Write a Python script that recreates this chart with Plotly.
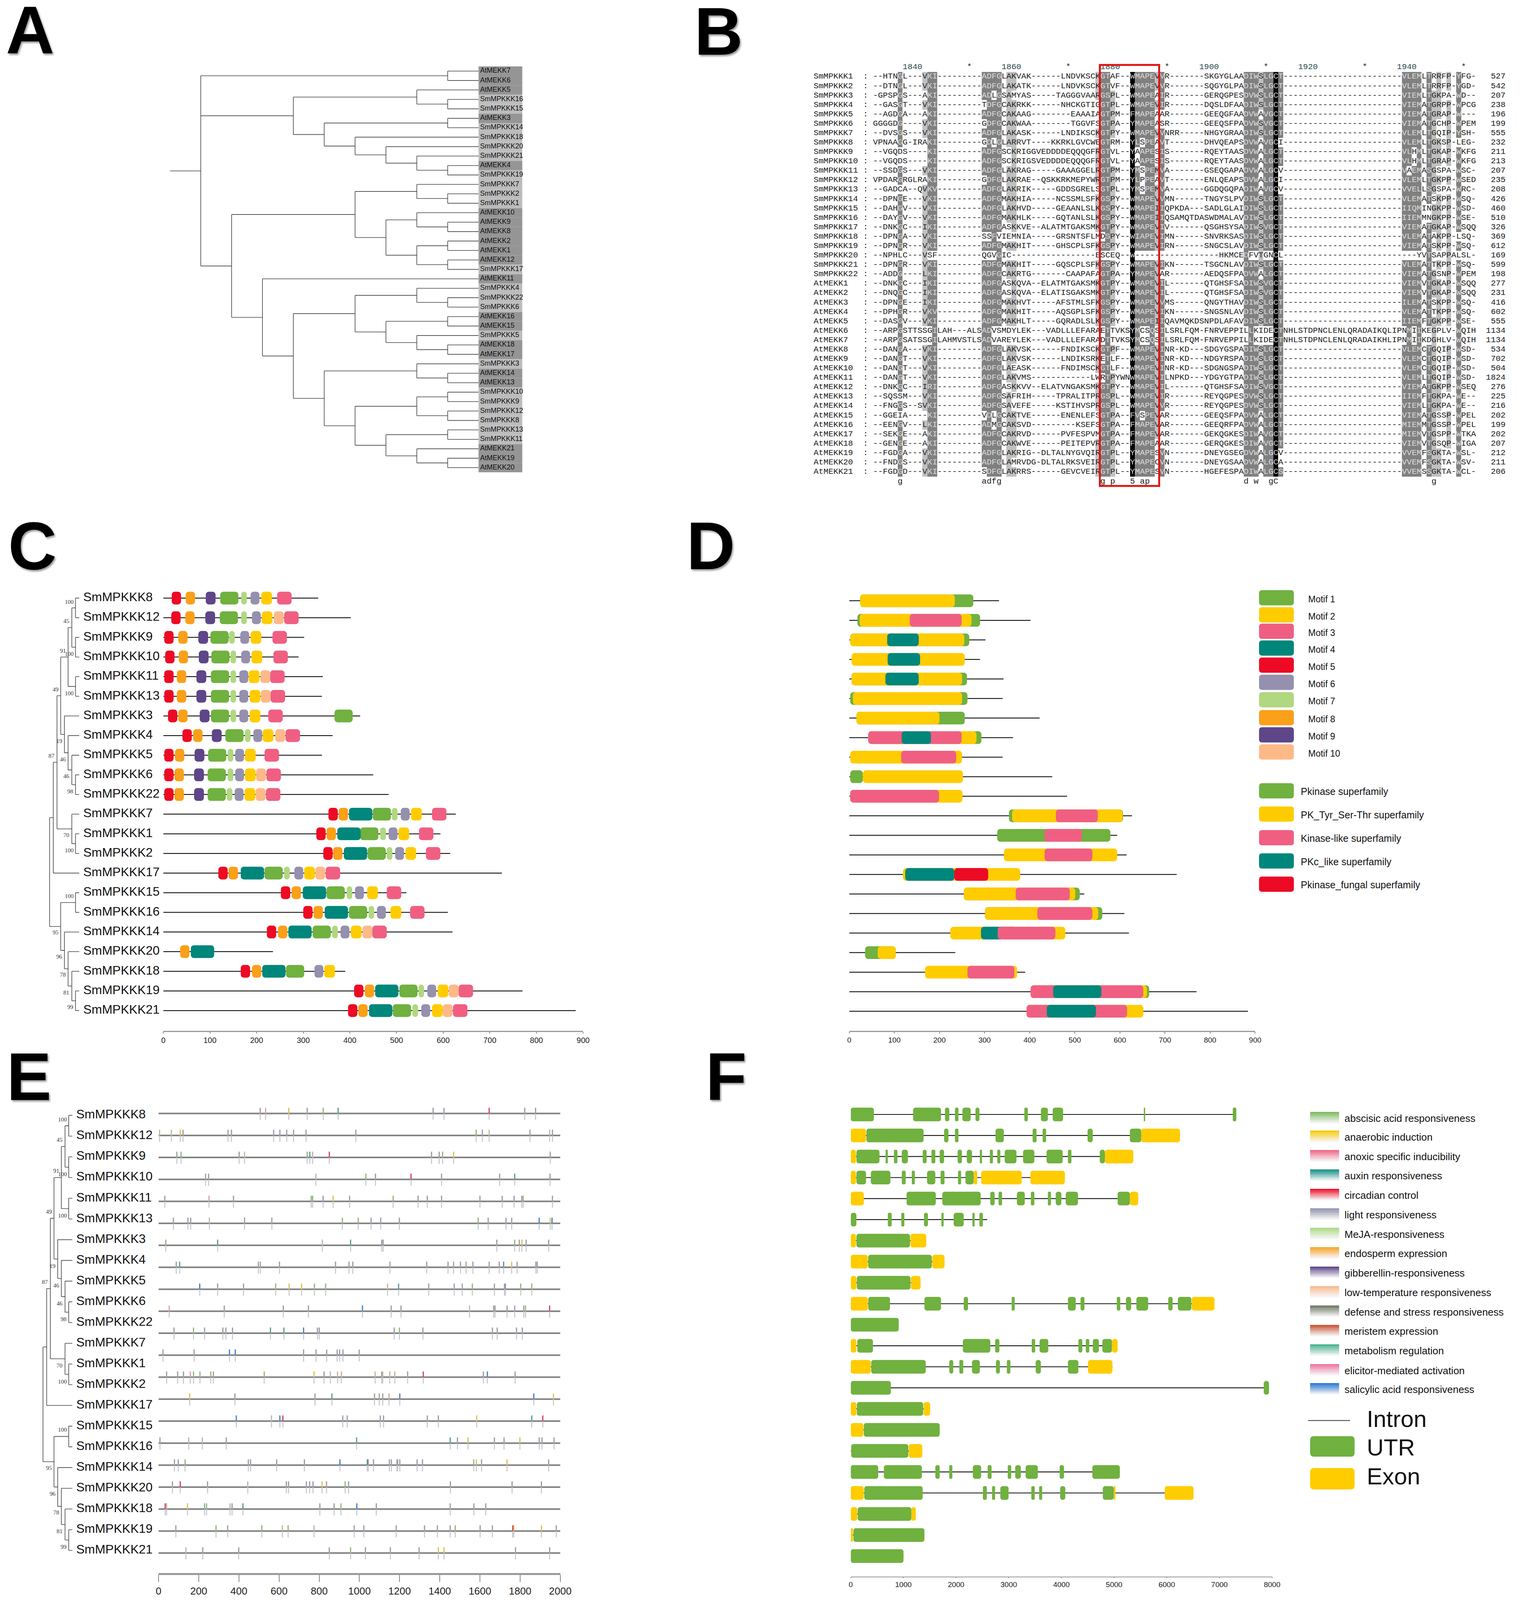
"""Six panel MPKKK figure: tree, alignment, motifs, domains, cis elements, gene structure."""
import plotly.graph_objects as go

W, H = 3918, 4196
PAGE_MARGIN = 8  # the body margin of the written page
FIG_W, FIG_H = W - 2 * PAGE_MARGIN, H - 2 * PAGE_MARGIN

# ---- colours -------------------------------------------------------------
GREEN, YELLOW, PINK, TEAL, RED = "#70B13F", "#FFCC00", "#F05F82", "#00867B", "#ED0A24"
MOTIF_COLORS = {1: GREEN, 2: YELLOW, 3: PINK, 4: TEAL, 5: RED, 6: "#9590AE",
                7: "#B0D880", 8: "#FAA019", 9: "#5E4688", 10: "#FDB988"}
SITE_COLORS = {"g": "#9A9AA6", "p": "#E39AA6", "y": "#D8C24A", "G": "#8DB677", "t": "#4F9A90",
               "r": "#D0405A", "b": "#3F7FC4", "n": "#C9B09A", "o": "#E8A040"}

# ---- panel A --------------------------------------------------------------
A_TREE = (
    ("AtMEKK7", "AtMEKK6"),
    (("AtMEKK5", ("SmMPKKK16", "SmMPKKK15")),
     (("AtMEKK3", "SmMPKKK14"),
      ("SmMPKKK18", ("SmMPKKK20", ("SmMPKKK21", ("AtMEKK4", "SmMPKKK19")))))),
    ((("SmMPKKK7", ("SmMPKKK2", "SmMPKKK1")),
      (("AtMEKK10", ("AtMEKK9", "AtMEKK8")),
       (("AtMEKK2", "AtMEKK1"), ("AtMEKK12", "SmMPKKK17")))),
     ("AtMEKK11",
      ((("SmMPKKK4", ("SmMPKKK22", "SmMPKKK6")),
        (("AtMEKK16", "AtMEKK15"), ("SmMPKKK5", ("AtMEKK18", "AtMEKK17")))),
       (("SmMPKKK3", ("AtMEKK14", "AtMEKK13")),
        ((("SmMPKKK10", "SmMPKKK9"), ("SmMPKKK12", "SmMPKKK8")),
         (("SmMPKKK13", "SmMPKKK11"), ("AtMEKK21", ("AtMEKK19", "AtMEKK20")))))))),
)

# ---- panel B --------------------------------------------------------------
G9, G7, G24 = "-" * 9, "-" * 7, "-" * 24
SEQ_NAMES = [f"SmMPKKK{i}" for i in range(1, 23)] + [f"AtMEKK{i}" for i in range(1, 22)]
SEQ_END = [527, 542, 207, 238, 196, 199, 555, 232, 211, 213, 207, 235, 208, 426, 460, 510, 326, 369, 612, 169,
           599, 198, 277, 231, 416, 602, 555, 1134, 1134, 534, 702, 504, 1824, 276, 225, 216, 202, 199, 202,
           207, 212, 211, 206]
SEQS = [
    "--HTNGL---VKI" + G9 + "ADFGLAKVAK------LNDVKSCK" + "GTAF--WMAPEVVR" + G7 + "SKGYGLAADIWSLGCT" + G24 + "VLEMLTRRFP-YFG-",
    "--DTNGL---VKI" + G9 + "ADFGLAKATK------LNDVKSCK" + "GTVF--WMAPEVVR" + G7 + "SQGYGLPADIWSLGCT" + G24 + "VLEMLTRRFP-YGD-",
    "-GPSPGS---AKI" + G9 + "ADLGSAMYAS-----TAGGGVAAR" + "GSPL--WMAPEAIR" + G7 + "GERQGPESDVWSLGCT" + G24 + "VIEMLTGKPA-WD--",
    "--GASGT---VKI" + G9 + "TDFGCAKRKK------NHCKGTIG" + "GTPL--WMAPEVIR" + G7 + "DQSLDFAADIWSLGCT" + G24 + "VIEMATGRPP-WPCG",
    "--AGDGA---AKI" + G9 + "ADFGCAKAAG--------EAAAIA" + "GTPM--FMAPEAAR" + G7 + "GEEQGFAADVWAVGCT" + G24 + "VIEMATGRAP-W---",
    "GGGGDG----VKI" + G9 + "GDFGCAKWAA--------TGGVFS" + "GTPA--YMAPEASR" + G7 + "GEEQSFPADVWSVGCT" + G24 + "VIEMATGCHP-WPEM",
    "--DVSGS---VKI" + G9 + "ADFGLAKASK------LNDIKSCK" + "GTPY--WMAPEVVN" + "RR-----" + "NHGYGRAADIWSLGCT" + G24 + "VLEMLTGQIP-YSH-",
    "VPNAAGG-IRAKI" + G9 + "GDLGLARRVT----KKRKLGVCWE" + "GTRM--YLSPEAVT" + G7 + "DHVQEAPSDVWAVGCI" + G24 + "VLEMLTGKSP-LEG-",
    "--VGQDS----KI" + G9 + "ADFGSCKRIGGVEDDDDEQQQGFR" + "GTVL--YAAPESIS" + G7 + "RQEYTAASDVWALGCT" + G24 + "VLHMLTGKAP-WKFG",
    "--VGQDS----KI" + G9 + "ADFGSCKRIGSVEDDDDEQQQGFR" + "GTVL--YAAPESIS" + G7 + "RQEYTAASDVWALGCT" + G24 + "VLHMLTGRAP-WKFG",
    "--SSDGS---VKI" + G9 + "ADFGLAKRAG-----GAAAGGELR" + "GTPM--YMSPEMVA" + G7 + "GSEQGAPADVWALGCV" + G24 + "VAEMASGSPA-WSC-",
    "VPDARGRGLRAKI" + G9 + "GDFGLAKRAE--QSKKRKMEPYWR" + "GTPM--YLPPEAVT" + G7 + "ENLQEAPSDVWALGCI" + G24 + "VLEMLTGKPP-WSED",
    "--GADCA--QVKV" + G9 + "ADFGLAKRIK-----GDDSGRELS" + "GTPL--YMSPEMVA" + G7 + "GGDQGQPADIWAVGCV" + G24 + "VVELLSGSPA-WRC-",
    "--DPNGE---VKI" + G9 + "ADFGMAKHIA-----NCSSMLSFK" + "GSPY--WMAPEVVM" + "N------" + "TNGYSLPVDIWSLGCT" + G24 + "VLEMATSKPP-WSQ-",
    "--DAHGV---VKI" + G9 + "ADFGLAKHVD-----GEAANLSLK" + "GSPY--WMAPEIIQ" + "PKDA---" + "SADLGLAIDIWSLGCT" + G24 + "IIQMINGKPP-WSD-",
    "--DAYGV---VKI" + G9 + "ADFGMAKHLK-----GQTANLSLK" + "GSPY--WMAPEIIQ" + "SAMQTDA" + "SWDMALAVDIWSLGCT" + G24 + "IIEMMNGKPP-WSE-",
    "--DNKGC---IKI" + G9 + "ADFGASKKVE--ALATMTGAKSMK" + "GTPY--WMAPEVIV" + G7 + "QSGHSYSADIWSVGCT" + G24 + "VIEMATGKAP-WSQQ",
    "--DPNGA---VKI" + G9 + "SSFVIEMNIA-----GRSNTSFLM" + "DSPY--WIAPEVIM" + "N------" + "SNVRKSASDIWSLGCT" + G24 + "VLEMATAKPP-LSQ-",
    "--DPNGR---VKI" + G9 + "ADFGMAKHIT-----GHSCPLSFK" + "GSPY--WMAPEVIR" + "N------" + "SNGCSLAVDIWSLGCT" + G24 + "VIEMATSKPP-WSQ-",
    "--NPHLC---VSF" + G9 + "QGVGIC-----------------E" + "SCEQ--W-------" + G7 + "---HKMCEDFVTGNCL" + G24 + "---YVTSAPPALSL-",
    "--DPNGR---VKI" + G9 + "ADFGMAKHIT-----GQSCPLSFK" + "GSPY--WMAPEVIK" + "N------" + "TSGCNLAVDIWSLGCT" + G24 + "VLEMATTKPP-WSQ-",
    "--ADDG----LKI" + G9 + "ADFGCAKRTG-------CAAPAFA" + "GTPA--YMAPEVAR" + G7 + "AEDQSFPADVWALGCT" + G24 + "VIEMATGSNP-WPEM",
    "--DNKGC---IKI" + G9 + "ADFGASKQVA--ELATMTGAKSMK" + "GTPY--WMAPEVIL" + G7 + "QTGHSFSADIWSVGCT" + G24 + "VIEMVTGKAP-WSQQ",
    "--DNQGC---IKI" + G9 + "ADFGASKQVA--ELATISGAKSMK" + "GTPY--WMAPEVIL" + G7 + "QTGHSFSADIWSVGCT" + G24 + "VIEMVTGKAP-WSQQ",
    "--DPNGE---IKI" + G9 + "ADFGMAKHVT-----AFSTMLSFK" + "GSPY--WMAPEVVM" + "S------" + "QNGYTHAVDIWSLGCT" + G24 + "ILEMATSKPP-WSQ-",
    "--DPHGR---VKV" + G9 + "ADFGMAKHIT-----AQSGPLSFK" + "GSPY--WMAPEVIK" + "N------" + "SNGSNLAVDIWSLGCT" + G24 + "VLEMATTKPP-WSQ-",
    "--DASGV---VKI" + G9 + "ADFGMAKHLT-----GQRADLSLK" + "GSPY--WMAPEIIQ" + "AVMQKDS" + "NPDLAFAVDIWSLGCT" + G24 + "IIEMFTGKPP-WSE-",
    "--ARPGSTTSSGI" + "LAH---ALS" + "ADVSMDYLEK---VADLLLEFARA" + "ETTVKSYMCSQSIL" + "SRLFQM-" + "FNRVEPPILLKIDECT" + "NHLSTDPNCLENLQRADAIKQLIP" + "NMIIKEGPLV-WQIH",
    "--ARPGSATSSGI" + "LAHMVSTLS" + "ADVAREYLEK---VADLLLEFARA" + "DTTVKSYMCSQSIL" + "SRLFQM-" + "FNRVEPPILLKIDECT" + "NHLSTDPNCLENLQRADAIKHLIP" + "NMIIKDGHLV-WQIH",
    "--DANGA---VKI" + G9 + "ADFGLAKVSK------FNDIKSCK" + "GTPF--WMAPEVIN" + "R-KD---" + "SDGYGSPADIWSLGCT" + G24 + "VLEMCTGQIP-WSD-",
    "--DANGT---VKI" + G9 + "ADFGLAKVSK------LNDIKSRK" + "ETLF--WMAPEVIN" + "R-KD---" + "NDGYRSPADIWSLGCT" + G24 + "VLEMCTGQIP-WSD-",
    "--DANGT---VKI" + G9 + "ADFGLAEASK------FNDIMSCK" + "GTLF--WMAPEVIN" + "R-KD---" + "SDGNGSPADIWSLGCT" + G24 + "VLEMCTGQIP-WSD-",
    "--DANGT---VKI" + G9 + "ADFGLAKVMS------------LW" + "RTPYWNWMAPEVIL" + "NPKD---" + "YDGYGTPADIWSLGCT" + G24 + "VLEMLTGQIP-WSD-",
    "--DNKGC---IRI" + G9 + "ADFGASKKVV--ELATVNGAKSMK" + "GTPY--WMAPEVIL" + G7 + "QTGHSFSADIWSVGCT" + G24 + "VIEMATGKPP-WSEQ",
    "--SQSSM---VKI" + G9 + "ADFGSAFRIH-----TPRALITPR" + "GSPL--WMAPEVIR" + G7 + "REYQGPESDVWSLGCT" + G24 + "IIEMFTGKPA-WE--",
    "--FNGGS--SVKI" + G9 + "ADFGSAVEFE-----KSTIHVSPR" + "GSPL--WMAPEVVR" + G7 + "REYQGPESDVWSLGCT" + G24 + "VIEMLTGKPA-WE--",
    "--GGEIA----KI" + G9 + "VDLGCAKTVE------ENENLEFS" + "GTPA--FVSPEVAR" + G7 + "GEEQSFPADVWALGCT" + G24 + "VIEMATGSSP-WPEL",
    "--EENGV---LKI" + G9 + "ADMGCAKSVD---------KSEFS" + "GTPA--FMAPEVAR" + G7 + "GEEQRFPADVWALGCT" + G24 + "MIEMMTGSSP-WPEL",
    "--SEKGE---AKI" + G9 + "ADFGCAKRVD------PVFESPVM" + "GTPA--FMAPEVAR" + G7 + "GEKQGKESDIWAVGCT" + G24 + "MIEMVTGSPP-WTKA",
    "--GENGE---AKI" + G9 + "ADFGCAKWVE------PEITEPVR" + "GTPA--FMAPEAAR" + G7 + "GERQGKESDIWAVGCT" + G24 + "VIEMVTGSQP-WIGA",
    "--FGDGA---VKI" + G9 + "ADFGLAKRIG--DLTALNYGVQIR" + "GTPL--YMAPESVN" + G7 + "DNEYGSEGDVWALGCV" + G24 + "VVEMFSGKTA-WSL-",
    "--FNDGS---VKI" + G9 + "ADFGLAMRVDG-DLTALRKSVEIR" + "GTPL--YMAPECVN" + G7 + "DNEYGSAADVWALGCA" + G24 + "VVEMFSGKTA-WSV-",
    "--FGDGD---VKI" + G9 + "SDFGLAKRRS------GEVCVEIR" + "GTPL--YMAPESVN" + G7 + "HGEFESPADIWALGCS" + G24 + "VVEMSSGKTA-WCL-",
]
SIMILAR_GROUPS = ["DN", "EQ", "ST", "KR", "FYW", "LIVM"]
HEADER_COLS = [7.5, 27.5, 47.5, 67.5, 87.5, 107.5]
HEADER_TEXT = ["1840", "1860", "1880", "1900", "1920", "1940"]
STAR_COLS = [19, 39, 59, 79, 99, 119]
CONS_COLS = [5, 22, 23, 24, 25, 46, 48, 52, 54, 55, 75, 77, 80, 81, 113]
CONS_CHARS = ["g", "a", "d", "f", "g", "g", "p", "5", "a", "p", "d", "w", "g", "C", "g"]

# ---- panels C, D, E, F share the same genes -------------------------------
GENES = ["SmMPKKK8", "SmMPKKK12", "SmMPKKK9", "SmMPKKK10", "SmMPKKK11", "SmMPKKK13", "SmMPKKK3", "SmMPKKK4",
         "SmMPKKK5", "SmMPKKK6", "SmMPKKK22", "SmMPKKK7", "SmMPKKK1", "SmMPKKK2", "SmMPKKK17", "SmMPKKK15",
         "SmMPKKK16", "SmMPKKK14", "SmMPKKK20", "SmMPKKK18", "SmMPKKK19", "SmMPKKK21"]
GENE_TREE = (
    (((((("SmMPKKK8", "SmMPKKK12"), ("SmMPKKK9", "SmMPKKK10")), ("SmMPKKK11", "SmMPKKK13")),
       ("SmMPKKK3", ("SmMPKKK4", ("SmMPKKK5", ("SmMPKKK6", "SmMPKKK22"))))),
      ("SmMPKKK7", ("SmMPKKK1", "SmMPKKK2"))),
     "SmMPKKK17"),
    (("SmMPKKK15", "SmMPKKK16"),
     ("SmMPKKK14", ("SmMPKKK20", ("SmMPKKK18", ("SmMPKKK19", "SmMPKKK21"))))),
)
BOOT_TEXT = ["100", "45", "91", "100", "49", "100", "19", "87", "46", "46", "98", "70", "100", "100", "95", "96",
             "78", "81", "99"]
BOOT_HEIGHT = [2.7, 3.5, 4.4, 2.7, 6.4, 2.7, 5.4, 7.5, 4.4, 3.5, 2.4, 3.5, 2.7, 2.7, 6.4, 5.4, 4.4, 3.5, 2.4]
BOOT_RANK = [0.22, 1.2, 2.7, 2.87, 4.68, 4.87, 7.3, 8.06, 8.23, 9.1, 9.86, 12.1, 12.87, 15.19, 17.05, 18.28,
             19.2, 20.1, 20.85]

PROTEIN_LEN = [332, 402, 302, 290, 342, 340, 422, 363, 340, 450, 483, 627, 594, 615, 726, 521, 610, 620, 235, 390,
               770, 884]
MOTIF_WIDTH = {1: 39, 2: 23, 3: 31, 4: 50, 5: 20, 6: 19, 7: 12, 8: 20, 9: 21, 10: 21}
# (motif number, start in aa) per gene
GENE_MOTIFS = [
    [(5, 18), (8, 48), (9, 91), (1, 122), (7, 167), (6, 187), (2, 210), (3, 244)],
    [(5, 17), (8, 47), (9, 90), (1, 121), (7, 167), (6, 190), (2, 211), (10, 237), (3, 259)],
    [(5, 2), (8, 32), (9, 75), (1, 101), (7, 141), (6, 165), (2, 187), (3, 234)],
    [(5, 4), (8, 33), (9, 76), (1, 103), (7, 144), (6, 167), (2, 189), (3, 236)],
    [(5, 2), (8, 29), (9, 71), (1, 102), (7, 144), (6, 163), (2, 183), (10, 208), (3, 229)],
    [(5, 2), (8, 29), (9, 71), (1, 102), (7, 144), (6, 163), (2, 185), (10, 209), (3, 230)],
    [(5, 10), (8, 32), (9, 78), (1, 102), (7, 144), (6, 163), (2, 185), (3, 225), (1, 367)],
    [(5, 41), (8, 64), (9, 104), (1, 133), (7, 175), (6, 193), (2, 213), (10, 240), (3, 262)],
    [(5, 2), (8, 25), (9, 67), (1, 96), (7, 138), (6, 154), (2, 175), (3, 217)],
    [(5, 2), (8, 24), (9, 66), (1, 95), (7, 138), (6, 154), (2, 175), (10, 199), (3, 221)],
    [(5, 2), (8, 24), (9, 66), (1, 95), (7, 136), (6, 153), (2, 174), (10, 198), (3, 220)],
    [(5, 354), (8, 376), (4, 398), (1, 449), (7, 490), (6, 509), (2, 531), (3, 576)],
    [(5, 328), (8, 350), (4, 373), (1, 422), (7, 465), (6, 483), (2, 504), (3, 548)],
    [(5, 343), (8, 364), (4, 387), (1, 438), (7, 479), (6, 497), (2, 519), (3, 563)],
    [(5, 118), (8, 140), (4, 166), (1, 217), (7, 259), (6, 281), (2, 302), (10, 326), (3, 348)],
    [(5, 252), (8, 275), (4, 299), (1, 350), (7, 393), (6, 411), (2, 437), (3, 479)],
    [(5, 300), (8, 322), (4, 346), (1, 398), (7, 440), (6, 458), (2, 487), (3, 529)],
    [(5, 222), (8, 246), (4, 268), (1, 320), (7, 362), (6, 380), (2, 402), (10, 427), (3, 448)],
    [(8, 36), (4, 59)],
    [(5, 166), (8, 190), (4, 212), (1, 263), (6, 324), (2, 345)],
    [(5, 409), (8, 432), (4, 454), (1, 506), (7, 547), (6, 566), (2, 588), (10, 612), (3, 633)],
    [(5, 396), (8, 418), (4, 441), (1, 492), (7, 534), (6, 553), (2, 576), (10, 599), (3, 621)],
]

# (start, end) of each superfamily block per gene, one list per family
DOM_GREEN = [[(24, 275)], [(18, 290)], [(2, 266)], [], [(5, 261)], [(2, 262)], [(16, 256)], [(42, 293)], [], [(2, 30)],
             [], [(354, 607)], [(328, 579)], [], [], [(254, 511)], [(301, 561)], [], [(35, 103)], [], [(402, 665)], []]
DOM_YELLOW = [[(24, 234)], [(23, 271)], [(2, 255)], [(5, 256)], [(5, 250)], [(8, 250)], [(16, 200)], [(42, 282)],
              [(2, 250)], [(30, 252)], [(2, 251)], [(361, 606)], [], [(343, 594)], [(119, 379)], [(254, 501)],
              [(301, 552)], [(224, 479)], [(63, 103)], [(168, 372)], [(402, 660)], [(393, 652)]]
DOM_TEAL_1 = [[], [], [(84, 154)], [(85, 157)], [(80, 154)], [], [], [], [], [], [], [], [], [], [(124, 233)], [], [],
              [(292, 369)], [], [], [], []]
DOM_PINK = [[], [(134, 249)], [], [], [], [], [], [(42, 249)], [(115, 237)], [], [(2, 199)], [(458, 551)], [(433, 516)],
            [(433, 539)], [], [(369, 489)], [(417, 539)], [(329, 457)], [], [(262, 366)], [(402, 652)], [(393, 616)]]
DOM_TEAL_2 = [[], [], [], [], [], [], [], [(116, 181)], [], [], [], [], [], [], [], [], [], [], [], [], [(452, 559)],
              [(438, 547)]]
DOM_RED = [[], [], [], [], [], [], [], [], [], [], [], [], [], [], [(233, 308)], [], [], [], [], [], [], []]

MOTIF_LEGEND = ["Motif 1", "Motif 2", "Motif 3", "Motif 4", "Motif 5", "Motif 6", "Motif 7", "Motif 8", "Motif 9",
                "Motif 10"]
FAMILY_LEGEND = ["Pkinase superfamily", "PK_Tyr_Ser-Thr superfamily", "Kinase-like superfamily",
                 "PKc_like superfamily", "Pkinase_fungal superfamily"]
FAMILY_COLORS = [GREEN, YELLOW, PINK, TEAL, RED]

# cis elements of panel E, one list of positions per promoter line, one letter per site for its colour
SITE_POS = [
    [506, 533, 648, 740, 820, 894, 1367, 1421, 1646, 1823, 1877],
    [5, 64, 108, 122, 346, 363, 573, 604, 638, 672, 734, 982, 1581, 1612, 1646, 1849, 1947, 1961],
    [91, 112, 401, 428, 740, 753, 767, 850, 1359, 1397, 1414, 1469, 1950],
    [234, 249, 783, 1032, 1080, 1257, 1409, 1698, 1773, 1949],
    [31, 251, 373, 760, 767, 819, 869, 951, 1168, 1292, 1338, 1409, 1600, 1711, 1770, 1808, 1815, 1961],
    [74, 146, 160, 253, 428, 564, 915, 994, 1058, 1106, 1199, 1591, 1641, 1730, 1758, 1895, 1950, 1959],
    [36, 294, 815, 956, 1111, 1118, 1684, 1773, 1796, 1809, 1830, 1942],
    [88, 105, 497, 507, 602, 881, 948, 967, 1152, 1335, 1441, 1469, 1503, 1531, 1565, 1646, 1696, 1718, 1758, 1785,
     1878, 1885],
    [205, 294, 423, 583, 650, 712, 776, 832, 1140, 1195, 1345, 1472, 1512, 1562, 1672, 1722, 1727, 1803, 1858],
    [53, 327, 621, 746, 1015, 1158, 1207, 1548, 1668, 1675, 1735, 1773, 1818, 1827, 1947],
    [77, 174, 229, 320, 335, 368, 557, 624, 722, 791, 800, 1173, 1199, 1316, 1662, 1686, 1782, 1811],
    [22, 177, 353, 382, 722, 784, 837, 889, 901, 918, 999],
    [40, 95, 124, 158, 174, 206, 260, 273, 526, 774, 824, 855, 891, 910, 1078, 1111, 1116, 1151, 1176, 1240, 1318,
     1617, 1637, 1775],
    [155, 380, 779, 863, 1075, 1099, 1116, 1147, 1201, 1868, 1966],
    [387, 562, 604, 619, 917, 939, 1104, 1120, 1338, 1393, 1584, 1858, 1913],
    [7, 150, 218, 337, 986, 1452, 1488, 1541, 1672, 1720, 1799, 1895, 1909, 1969],
    [79, 98, 132, 447, 458, 588, 726, 903, 1039, 1044, 1070, 1149, 1159, 1187, 1190, 1201, 1287, 1314, 1569, 1582,
     1608, 1735, 1942],
    [69, 108, 244, 444, 636, 647, 736, 752, 769, 814, 836, 929, 946, 1453, 1760, 1906],
    [33, 40, 144, 229, 239, 356, 366, 420, 803, 874, 908, 987, 1084, 1452, 1570, 1629],
    [86, 286, 344, 514, 616, 645, 774, 974, 1022, 1183, 1324, 1388, 1452, 1477, 1601, 1662, 1763, 1768, 1906, 1980],
    [136, 220, 399, 850, 956, 1030, 1154, 1297, 1393, 1421, 1777, 1947],
]
SITE_KIND = ["gpygGtggrgg", "nnygggggggggGgngng", "gGgnGtnrggGyg", "ggnGgrggtg", "gpgGGgygGgggggggGg",
             "gggnggGGgggGgggbyb", "GtntgggGgygg", "gtgGggggGggGgGgGgtyggg", "bggGyyGGntgggGgggGG",
             "pgggbggngggggGr", "gGggggttbgggGggggg", "ggbbggggggg", "gggpGGGgGygnnnngnnngrgbg", "yggtgGgnbby",
             "bnbrggggggytr", "gnngttgyggyggg", "ggGggggbtgggggggggGygyg", "grgngggggygGgggg", "rnygGngtggGbgggg",
             "gGgGnGnggggggGggroyg", "ngggGgggyygg"]

# gene structure of panel F in bp
F_LEN = [7320, 6251, 5365, 4065, 5457, 2592, 1432, 1780, 1325, 6906, 911, 5067, 4968, 7941, 1507, 1689, 1358, 5109,
         6508, 1234, 1399, 1002]
F_GREEN = [
    [(0, 439), (1184, 1714), (1789, 1871), (1979, 2045), (2120, 2277), (2368, 2443), (3296, 3362), (3610, 3743),
     (3834, 4032), (5564, 5589), (7253, 7320)],
    [(298, 1383), (1772, 1855), (1979, 2045), (2749, 2906), (3453, 3527), (3643, 3709), (4496, 4595), (5299, 5515)],
    [(108, 546), (662, 704), (820, 886), (969, 1085), (1366, 1441), (1532, 1606), (1689, 1772), (2029, 2111),
     (2203, 2302), (2451, 2492), (2641, 2699), (2782, 2840), (2923, 3146), (3271, 3486), (3718, 4024), (4123, 4190),
     (4728, 4827)],
    [(108, 290), (381, 753), (969, 1043), (1159, 1217), (1449, 1606), (1706, 1780), (2037, 2095), (2178, 2335)],
    [(1060, 1615), (1739, 2467), (2650, 2732), (2807, 2873), (3155, 3304), (3420, 3486), (3743, 3801), (3892, 3999),
     (4082, 4314), (5067, 5299)],
    [(0, 108), (704, 778), (960, 1018), (1391, 1466), (1722, 1764), (1954, 2145), (2310, 2352), (2443, 2509)],
    [(108, 1126)],
    [(331, 1540)],
    [(116, 1134)],
    [(331, 745), (1399, 1714), (2145, 2227), (3055, 3113), (4123, 4272), (4363, 4438), (5051, 5117), (5225, 5324),
     (5423, 5647), (6028, 6111), (6210, 6467)],
    [(0, 911)],
    [(124, 422), (2128, 2650), (2741, 2823), (3436, 3502), (3585, 3751), (4322, 4397), (4463, 4529), (4595, 4711),
     (4777, 4960)],
    [(389, 1424), (1871, 1946), (2062, 2136), (2302, 2451), (2757, 2832), (2964, 3031), (3511, 3610), (4123, 4322)],
    [(0, 762), (7841, 7941)],
    [(116, 1375)],
    [(248, 1689)],
    [(8, 1093)],
    [(0, 522), (629, 1350), (1606, 1689), (1871, 1929), (2318, 2476), (2600, 2674), (2981, 3047), (3122, 3229),
     (3320, 3552), (3966, 4049), (4587, 5109)],
    [(257, 1366), (2509, 2583), (2683, 2741), (2840, 2997), (3428, 3494), (3577, 3635), (3975, 4074), (4786, 4993)],
    [(132, 1151)],
    [(50, 1399)],
    [(0, 1002)],
]
F_YELLOW = [
    [], [(0, 290), (5515, 6251)], [(0, 99), (4827, 5365)], [(0, 99), (2335, 2401), (2476, 3246), (3411, 4065)],
    [(0, 248), (5299, 5457)], [], [(0, 99), (1134, 1432)], [(0, 323), (1548, 1780)], [(0, 108), (1143, 1325)],
    [(0, 323), (6475, 6906)], [], [(0, 108), (4960, 5067)], [(0, 381), (4504, 4968)], [], [(0, 108), (1383, 1507)],
    [(0, 240)], [(1101, 1358)], [], [(0, 248), (4993, 5026), (5962, 6508)], [(0, 124), (1151, 1234)], [(0, 41)], [],
]
CRE_LEGEND = ["abscisic acid responsiveness", "anaerobic induction", "anoxic specific inducibility",
              "auxin responsiveness", "circadian control", "light responsiveness", "MeJA-responsiveness",
              "endosperm expression", "gibberellin-responsiveness", "low-temperature responsiveness",
              "defense and stress responsiveness", "meristem expression", "metabolism regulation",
              "elicitor-mediated activation", "salicylic acid responsiveness"]
CRE_COLORS = ["#7AB85C", "#F8C800", "#EF6080", "#0A8A80", "#EE0A22", "#8F8FAA", "#A8D880", "#F8A020", "#5A4488",
              "#F8B888", "#6A7560", "#C85030", "#40B088", "#EF70A0", "#2070D0"]


# ---- helpers --------------------------------------------------------------
def fx(px):
    return (px - PAGE_MARGIN) / FIG_W


def fy(px):
    return 1 - (px - PAGE_MARGIN) / FIG_H


def tips(node):
    if isinstance(node, str):
        return [node]
    return [t for c in node for t in tips(c)]


def tree_lines(node, rank, xs, ys):
    """Walks the tree, fills line coordinates (height above tips, rank). Returns (rank, height)."""
    if isinstance(node, str):
        return rank[node], 0
    kids = [tree_lines(c, rank, xs, ys) for c in node]
    h = 1 + max(k[1] for k in kids)
    y = (kids[0][0] + kids[-1][0]) / 2
    for ky, kh in kids:
        xs += [kh, h, None]
        ys += [ky, ky, None]
    xs += [h, h, None]
    ys += [kids[0][0], kids[-1][0], None]
    return y, h


def hidden_axis(dom, rng, **kw):
    return dict(domain=dom, range=rng, visible=False, showgrid=False, zeroline=False, **kw)


def ruler_axis(dom, rng, ticks, size, anchor, ticklen=4, linewidth=3):
    return dict(domain=dom, range=rng, anchor=anchor, side="bottom", showgrid=False, zeroline=False,
                showline=True, linecolor="#999999", linewidth=linewidth, ticks="outside", ticklen=ticklen,
                tickwidth=2, tickcolor="#888888", tickvals=ticks, ticktext=[str(t) for t in ticks],
                tickfont=dict(family="Liberation Sans", size=size, color="#222222"))


def text_trace(x, y, text, size, xa, ya, pos="middle right", color="#111111", family="Liberation Sans"):
    return go.Scatter(x=x, y=y, text=text, mode="text", textposition=pos, cliponaxis=False, hoverinfo="skip",
                      textfont=dict(family=family, size=size, color=color), xaxis=xa, yaxis=ya)


def hbars(starts, ends, ranks, color, thick, xa, ya, radius=0):
    return go.Bar(y=ranks, base=starts, x=[e - s for s, e in zip(starts, ends)], orientation="h", width=thick,
                  marker=dict(color=color, line=dict(width=0), cornerradius=radius), xaxis=xa, yaxis=ya,
                  hoverinfo="skip")


def note(px, py, text, size, family="Liberation Sans", bold=False, color="#111111", shadow=None):
    shown = f"<b>{text}</b>" if bold else text
    font = dict(family=family, size=size, color=color)
    if shadow:
        font["shadow"] = shadow
    return dict(x=fx(px), y=fy(py), xref="paper", yref="paper", text=shown, showarrow=False, xanchor="left",
                yanchor="middle", font=font)


def round_box(x0, y0, x1, y1, r, color):
    a, b, c, d = fx(x0), fx(x1), fy(y0), fy(y1)
    rx, ry = r / FIG_W, r / FIG_H
    path = (f"M {a + rx} {c} L {b - rx} {c} Q {b} {c} {b} {c - ry} L {b} {d + ry} Q {b} {d} {b - rx} {d} "
            f"L {a + rx} {d} Q {a} {d} {a} {d + ry} L {a} {c - ry} Q {a} {c} {a + rx} {c} Z")
    return dict(type="path", path=path, xref="paper", yref="paper", fillcolor=color, line=dict(width=0))


def blend(color, t):
    """color at t=0 going to near white at t=1"""
    rgb = [int(color[i:i + 2], 16) for i in (1, 3, 5)]
    return "rgb({},{},{})".format(*[round(v + (246 - v) * t) for v in rgb])


traces, shapes, notes = [], [], []

# ---- A: tree + name boxes -------------------------------------------------
A_NAMES = tips(A_TREE)
A_RANK = {n: i for i, n in enumerate(A_NAMES)}
xs, ys = [], []
root_y, root_h = tree_lines(A_TREE, A_RANK, xs, ys)
xs += [root_h, root_h + 1]
ys += [root_y, root_y]
for prefix, color in (("At", "#959595"), ("Sm", "#BCBCBC")):
    ranks = [A_RANK[n] for n in A_NAMES if n.startswith(prefix)]
    traces.append(hbars([0] * len(ranks), [-1.42] * len(ranks), ranks, color, 1, "x", "y"))
traces.append(go.Scatter(x=xs, y=ys, mode="lines", line=dict(color="#444444", width=1.6), xaxis="x", yaxis="y",
                         hoverinfo="skip"))
traces.append(text_trace([-0.05] * len(A_NAMES), list(range(len(A_NAMES))), A_NAMES, 18, "x", "y"))

# ---- B: alignment ---------------------------------------------------------
assert all(len(s) == 122 for s in SEQS), [(i, len(s)) for i, s in enumerate(SEQS) if len(s) != 122]
group_of = {ch: g for g in SIMILAR_GROUPS for ch in g}
levels = []
for s in SEQS:
    levels.append([0] * 122)
for col in range(122):
    counts = {}
    for s in SEQS:
        key = group_of.get(s[col], s[col])
        counts[key] = counts.get(key, 0) + 1
    for row, s in enumerate(SEQS):
        if s[col] == "-":
            continue
        frac = counts[group_of.get(s[col], s[col])] / len(SEQS)
        levels[row][col] = 3 if frac >= 0.999 else 2 if frac >= 0.8 else 1 if frac >= 0.6 else 0
traces.append(go.Heatmap(
    z=levels, x=list(range(122)), y=list(range(len(SEQS))), zmin=0, zmax=3, showscale=False, hoverinfo="skip",
    colorscale=[[0, "#FFFFFF"], [0.25, "#FFFFFF"], [0.25, "#C0C0C0"], [0.5, "#C0C0C0"], [0.5, "#808080"],
                [0.75, "#808080"], [0.75, "#000000"], [1, "#000000"]], xaxis="x2", yaxis="y2"))
for lev, color in ((0, "#1A1A1A"), (1, "#262626"), (2, "#DDDDDD"), (3, "#CCCCCC")):
    cx, cy, ct = [], [], []
    for row, s in enumerate(SEQS):
        for col, ch in enumerate(s):
            if levels[row][col] == lev:
                cx.append(col)
                cy.append(row)
                ct.append(ch)
    traces.append(text_trace(cx, cy, ct, 21, "x2", "y2", "middle center", color, "Liberation Mono"))
n_seq = len(SEQS)
traces.append(text_trace([-12.5] * n_seq, list(range(n_seq)), SEQ_NAMES, 21, "x2", "y2", "middle right", "#1A1A1A",
                         "Liberation Mono"))
traces.append(text_trace([-2.0] * n_seq, list(range(n_seq)), [":"] * n_seq, 21, "x2", "y2", "middle center", "#1A1A1A",
                         "Liberation Mono"))
traces.append(text_trace([123.5] * n_seq, list(range(n_seq)), [str(v).rjust(4) for v in SEQ_END], 21, "x2", "y2",
                         "middle right", "#1A1A1A", "Liberation Mono"))
traces.append(text_trace(HEADER_COLS, [-1.0] * 6, HEADER_TEXT, 21, "x2", "y2", "middle center", "#2A4A4A",
                         "Liberation Mono"))
traces.append(text_trace(STAR_COLS, [-1.0] * 6, ["*"] * 6, 21, "x2", "y2", "middle center", "#1A1A1A",
                         "Liberation Mono"))
traces.append(text_trace(CONS_COLS, [43.04] * len(CONS_COLS), CONS_CHARS, 21, "x2", "y2", "middle center", "#1A1A1A",
                         "Liberation Mono"))
shapes.append(dict(type="rect", xref="x2", yref="y2", x0=45.4, x1=57.4, y0=-1.25, y1=43.5,
                   line=dict(color="#E01515", width=5), fillcolor="rgba(0,0,0,0)"))


# ---- C: motifs ------------------------------------------------------------
def gene_tree_traces(xa, ya, label_x):
    rank = {g: i for i, g in enumerate(GENES)}
    tx, ty = [], []
    tree_lines(GENE_TREE, rank, tx, ty)
    out = [go.Scatter(x=tx, y=ty, mode="lines", line=dict(color="#444444", width=1.6), xaxis=xa, yaxis=ya,
                      hoverinfo="skip")]
    out.append(text_trace([label_x] * 22, list(range(22)), GENES, 32, xa, ya))
    out.append(text_trace(BOOT_HEIGHT, BOOT_RANK, BOOT_TEXT, 15, xa, ya, "middle center", "#333333",
                          "Liberation Serif"))
    return out


rows = list(range(22))
traces.append(hbars([0] * 22, PROTEIN_LEN, rows, "#111111", 0.045, "x3", "y3"))
for motif, color in MOTIF_COLORS.items():
    st, en, rk = [], [], []
    for r, items in enumerate(GENE_MOTIFS):
        for m, s in items:
            if m == motif:
                st.append(s)
                en.append(s + MOTIF_WIDTH[m])
                rk.append(r)
    traces.append(hbars(st, en, rk, color, 0.65, "x3", "y3", 8))
traces += gene_tree_traces("x4", "y3", -1.09)
traces.append(text_trace([-1], [21.83], ["'"], 20, "x3", "y3", "middle center"))
traces.append(text_trace([905], [21.83], ["3'"], 20, "x3", "y3", "middle center"))

# ---- D: domains -----------------------------------------------------------
traces.append(hbars([0] * 22, PROTEIN_LEN, rows, "#111111", 0.045, "x5", "y4"))
for table, color in ((DOM_GREEN, GREEN), (DOM_YELLOW, YELLOW), (DOM_TEAL_1, TEAL), (DOM_PINK, PINK),
                     (DOM_TEAL_2, TEAL), (DOM_RED, RED)):
    st, en, rk = [], [], []
    for r, items in enumerate(table):
        for s, e in items:
            st.append(s)
            en.append(e)
            rk.append(r)
    traces.append(hbars(st, en, rk, color, 0.65, "x5", "y4", 8))
traces.append(text_trace([-4], [21.85], ["5'"], 20, "x5", "y4", "middle center"))
traces.append(text_trace([905], [21.85], ["3'"], 20, "x5", "y4", "middle center"))

# ---- E: cis elements ------------------------------------------------------
n_lines = len(SITE_POS)
lx, ly = [], []
for r in range(n_lines):
    lx += [0, 2000, None]
    ly += [r, r, None]
traces.append(go.Scatter(x=lx, y=ly, mode="lines", line=dict(color="#808080", width=4), xaxis="x6", yaxis="y5",
                         hoverinfo="skip"))
low_x, low_y = [], []
for r, pos in enumerate(SITE_POS):
    for p in pos:
        low_x += [p, p, None]
        low_y += [r, r + 0.29, None]
traces.append(go.Scatter(x=low_x, y=low_y, mode="lines", line=dict(color="#C4C4D0", width=2.5), xaxis="x6", yaxis="y5",
                         cliponaxis=False, hoverinfo="skip"))
for kind, color in SITE_COLORS.items():
    top_x, top_y = [], []
    for r, pos in enumerate(SITE_POS):
        for p, k in zip(pos, SITE_KIND[r]):
            if k == kind:
                top_x += [p, p, None]
                top_y += [r - 0.26, r, None]
    traces.append(go.Scatter(x=top_x, y=top_y, mode="lines", line=dict(color=color, width=3), xaxis="x6", yaxis="y5",
                             cliponaxis=False, hoverinfo="skip"))
traces += gene_tree_traces("x7", "y6", -1.05)
traces.append(text_trace([-10], [20.43], ["'"], 30, "x6", "y5", "middle center"))
traces.append(text_trace([2025], [20.5], ["3'"], 30, "x6", "y5", "middle center"))

# ---- F: gene structure ----------------------------------------------------
traces.append(hbars([0] * 22, F_LEN, rows, "#111111", 0.04, "x8", "y7"))
for table, color in ((F_GREEN, GREEN), (F_YELLOW, YELLOW)):
    st, en, rk = [], [], []
    for r, items in enumerate(table):
        for s, e in items:
            st.append(s)
            en.append(e)
            rk.append(r)
    traces.append(hbars(st, en, rk, color, 0.65, "x8", "y7", 6))
traces.append(go.Scatter(x=[-50] * 22, y=rows, mode="markers", cliponaxis=False, hoverinfo="skip", xaxis="x8",
                         yaxis="y7", marker=dict(symbol="line-ns", size=18, line=dict(color="#777777", width=2))))
traces.append(text_trace([-35], [21.76], ["5'"], 19, "x8", "y7", "middle center"))
traces.append(text_trace([8040], [21.76], ["3'"], 19, "x8", "y7", "middle center"))

# ---- legends --------------------------------------------------------------
MOTIF_Y = [1569, 1614, 1657, 1701, 1746, 1791, 1837, 1884, 1929, 1974]
for i, (name, y) in enumerate(zip(MOTIF_LEGEND, MOTIF_Y)):
    shapes.append(round_box(3247, y - 20, 3337, y + 20, 8, MOTIF_COLORS[i + 1]))
    notes.append(note(3372, y + 4, name, 23))
FAMILY_Y = [2076, 2137, 2199, 2260, 2321]
for name, y, color in zip(FAMILY_LEGEND, FAMILY_Y, FAMILY_COLORS):
    shapes.append(round_box(3247, y - 20, 3337, y + 20, 8, color))
    notes.append(note(3353, y + 2, name, 25))
CRE_Y = [2934, 2983, 3034, 3085, 3136, 3187, 3238, 3289, 3340, 3391, 3442, 3493, 3544, 3596, 3646]
for name, y, color in zip(CRE_LEGEND, CRE_Y, CRE_COLORS):
    for band in range(12):
        top = y - 15 + band * 2.5
        shapes.append(dict(type="rect", xref="paper", yref="paper", x0=fx(3379), x1=fx(3454), y0=fy(top + 2.6),
                           y1=fy(top), fillcolor=blend(color, band / 11), line=dict(width=0)))
    notes.append(note(3466, y + 2, name, 26))
shapes.append(dict(type="line", xref="paper", yref="paper", x0=fx(3374), x1=fx(3482), y0=fy(3729), y1=fy(3729),
                   line=dict(color="#333333", width=2)))
notes.append(note(3523, 3725, "Intron", 60))
shapes.append(round_box(3379, 3770, 3494, 3824, 10, GREEN))
notes.append(note(3523, 3800, "UTR", 60))
shapes.append(round_box(3379, 3854, 3494, 3910, 10, YELLOW))
notes.append(note(3523, 3876, "Exon", 60))

for letter, px, py in (("A", 6, 78), ("B", 1785, 82), ("C", 12, 1432), ("D", 1765, 1432), ("E", 8, 2826),
                       ("F", 1815, 2826)):
    notes.append(note(px, py, letter, 172, bold=True, color="#000000", shadow="3px 4px 4px #999999"))

# ---- axes -----------------------------------------------------------------
# no fixed width/height: the page fills the browser window and everything follows in paper fractions
fig = go.Figure(traces)
fig.update_layout(
    margin=dict(l=0, r=0, t=0, b=0), paper_bgcolor="white", plot_bgcolor="rgba(0,0,0,0)",
    showlegend=False, barmode="overlay", shapes=shapes, annotations=notes,
    font=dict(family="Liberation Sans"),
    # A
    xaxis=hidden_axis([fx(432), fx(1343)], [10, -1.42], anchor="y"),
    yaxis=hidden_axis([fy(1240), fy(174)], [42.5, -0.5], anchor="x"),
    # B
    xaxis2=hidden_axis([fx(2089.5), fx(3910)], [-13, 129.5], anchor="y2"),
    yaxis2=hidden_axis([fy(1287.8), fy(164)], [44, -1.5], anchor="x2"),
    # C
    xaxis3=ruler_axis([fx(415), fx(1500)], [0, 900], list(range(0, 901, 100)), 20, "y3"),
    yaxis3=hidden_axis([fy(2706), fy(1518.4)], [22.03, -1], anchor="x3"),
    xaxis4=hidden_axis([fx(110), fx(415)], [9.15, -22.7], anchor="y3"),
    # D
    xaxis5=ruler_axis([fx(2188), fx(3237)], [0, 900], list(range(0, 901, 100)), 19, "y4"),
    yaxis4=hidden_axis([fy(2706), fy(1525.7)], [22.0, -1], anchor="x5"),
    # E
    xaxis6=ruler_axis([fx(402.7), fx(1441)], [0, 2000], list(range(0, 2001, 200)), 26, "y5", ticklen=18, linewidth=5),
    yaxis5=hidden_axis([fy(4130), fy(2865.3)], [20.92, -1], anchor="x6"),
    xaxis7=hidden_axis([fx(100), fx(402)], [8.42, -23.4], anchor="y6"),
    yaxis6=hidden_axis([fy(4100), fy(2890)], [21.55, -0.7], anchor="x7"),
    # F
    xaxis8=ruler_axis([fx(2191.7), fx(3280.8)], [0, 8000], list(range(0, 8001, 1000)), 19, "y7", ticklen=2, linewidth=2),
    yaxis7=hidden_axis([fy(4139), fy(2870.4)], [21.98, -1], anchor="x8"),
)
fig.write_html("out.html")
